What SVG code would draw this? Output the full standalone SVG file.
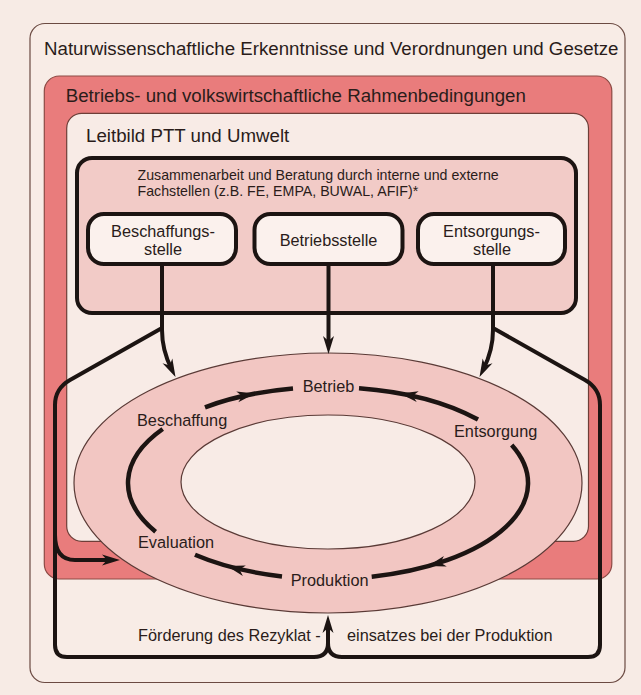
<svg xmlns="http://www.w3.org/2000/svg" width="641" height="695" viewBox="0 0 641 695">
<defs>
<style>
.t{font-family:"Liberation Sans",Arial,sans-serif;fill:#2a1c1a}
.h{font-size:18.7px}
.m{font-size:16.3px}
.s{font-size:14.2px}
.c{text-anchor:middle}
.ln{fill:none;stroke:#1c1412;stroke-width:4;stroke-linejoin:round}
.arc{fill:none;stroke:#1c1412;stroke-width:4.5}
.box{fill:#fbf1ed;stroke:#1c1412;stroke-width:4}
.ah{fill:#1c1412}
</style>
<path id="ah" d="M0,0 L-18,-5.5 L-13,0 L-18,5.5 Z"/>
</defs>
<rect width="641" height="695" fill="#f7ebe5"/>
<g id="frame-gesetze">
<rect x="30" y="23.5" width="595" height="659" rx="15" fill="#f8ece6" stroke="#6b4a42" stroke-width="1.2"/>
<text class="t h" x="44" y="55">Naturwissenschaftliche Erkenntnisse und Verordnungen und Gesetze</text>
</g>
<g id="frame-rahmen">
<rect x="44.3" y="76" width="567.5" height="503" rx="15" fill="#e97c7c" stroke="#8d4a44" stroke-width="1.2"/>
<text class="t h" x="65.7" y="101.7">Betriebs- und volkswirtschaftliche Rahmenbedingungen</text>
</g>
<g id="frame-leitbild">
<rect x="66.7" y="113.3" width="521.8" height="428" rx="15" fill="#f8ebe6" stroke="#6e3e38" stroke-width="1.2"/>
<text class="t h" x="86" y="141.7">Leitbild PTT und Umwelt</text>
</g>
<g id="fachstellen">
<rect x="77" y="158" width="499" height="155" rx="15" fill="#f2cbc7" stroke="#1c1412" stroke-width="4"/>
<text class="t s" x="137.5" y="179.5">Zusammenarbeit und Beratung durch interne und externe</text>
<text class="t s" x="137.5" y="196">Fachstellen (z.B. FE, EMPA, BUWAL, AFIF)*</text>
</g>
<g id="beschaffungsstelle">
<rect class="box" x="88" y="214" width="148" height="50" rx="16"/>
<text class="t m c" x="163" y="236.7">Beschaffungs-</text>
<text class="t m c" x="163" y="255">stelle</text>
</g>
<g id="betriebsstelle">
<rect class="box" x="254.5" y="214" width="148" height="50" rx="16"/>
<text class="t m c" x="328.5" y="245.5">Betriebsstelle</text>
</g>
<g id="entsorgungsstelle">
<rect class="box" x="418" y="214" width="147" height="50" rx="16"/>
<text class="t m c" x="491.5" y="236.7">Entsorgungs-</text>
<text class="t m c" x="492" y="255">stelle</text>
</g>
<g id="kreislauf">
<ellipse cx="328" cy="483" rx="254" ry="130" fill="#f2c6c2" stroke="#5a3a36" stroke-width="1.2"/>
<ellipse cx="328" cy="482" rx="147" ry="67" fill="#f8ebe6" stroke="#5a3a36" stroke-width="1.2"/>
<path class="arc" d="M205,407.3 A200,96 0 0 1 293,388.5"/>
<path class="arc" d="M359,388.2 A200,96 0 0 1 478,419.5"/>
<path class="arc" d="M511.7,445 A200,96 0 0 1 371.7,576.7"/>
<path class="arc" d="M282,576.4 A200,96 0 0 1 195,554.7"/>
<path class="arc" d="M155.6,531.7 A200,96 0 0 1 162.7,429"/>
<use href="#ah" class="ah" transform="translate(255,393.6) rotate(-10.6)"/>
<use href="#ah" class="ah" transform="translate(400,393.4) rotate(-169.5)"/>
<use href="#ah" class="ah" transform="translate(428,566.1) rotate(164.5)"/>
<use href="#ah" class="ah" transform="translate(227,565.9) rotate(195.7)"/>
<text class="t m" x="302.7" y="391.7">Betrieb</text>
<text class="t m" x="137" y="426">Beschaffung</text>
<text class="t m" x="454" y="437">Entsorgung</text>
<text class="t m" x="138" y="548">Evaluation</text>
<text class="t m" x="290.7" y="585.7">Produktion</text>
</g>
<g id="connectors">
<path class="ln" d="M162,266 L162,330 Q162,350 171.5,369"/>
<use href="#ah" class="ah" transform="translate(175.5,377) rotate(63.4)"/>
<path class="ln" d="M328.5,266 L328.5,346"/>
<use href="#ah" class="ah" transform="translate(328.5,354) rotate(90)"/>
<path class="ln" d="M493,266 L493,330 Q493,350 483.5,369"/>
<use href="#ah" class="ah" transform="translate(479.5,377) rotate(116.6)"/>
<path class="ln" d="M162,328 L70,380 Q55,388.5 55,405 L55,645 Q55,657 67,657 L314,657 Q328,657 328,643 L328,624"/>
<path class="ln" d="M493,328 L585,380 Q600,388.5 600,405 L600,645 Q600,657 588,657 L342,657 Q328,657 328,643"/>
<use href="#ah" class="ah" transform="translate(328,615) rotate(-90)"/>
<path class="ln" d="M55,535 Q55,560 75,560 L112,560"/>
<use href="#ah" class="ah" transform="translate(120,560)"/>
</g>
<g id="bottom-label">
<text class="t m" x="138" y="641">Förderung des Rezyklat -</text>
<text class="t m" x="347" y="641">einsatzes bei der Produktion</text>
</g>
</svg>
